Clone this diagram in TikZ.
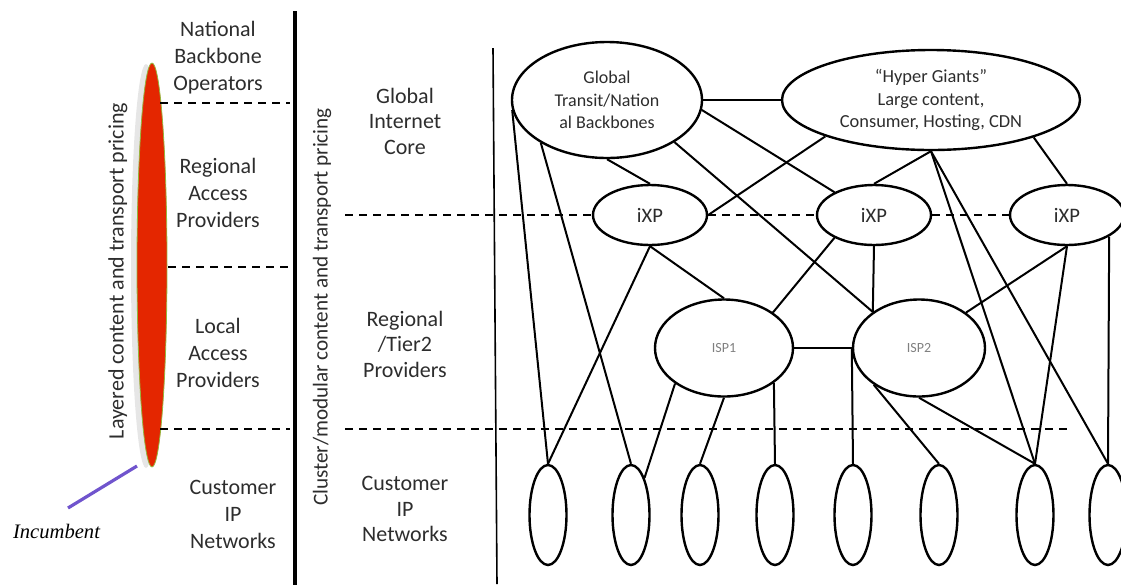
\documentclass[tikz,border=0pt]{standalone}
\usepackage{fontspec}
\setmainfont{Carlito}
\newfontfamily\incfont{Liberation Serif}
\usetikzlibrary{shapes.geometric}
\usetikzlibrary{positioning}
\usetikzlibrary{shadows}
\definecolor{barred}{RGB}{228,38,0}
\definecolor{barrim}{RGB}{150,180,60}
\definecolor{incpurple}{RGB}{112,84,205}
\definecolor{txtgray}{RGB}{45,45,45}
\tikzset{every picture/.style={x=0.5pt,y=-0.5pt},
  net/.style={ellipse,draw,line width=1.2pt,inner sep=0pt,align=center,text=txtgray},
  link/.style={line width=1pt},
  layer/.style={line width=1pt,dash pattern=on 4pt off 3pt},
  tier/.style={align=center,text=txtgray,font=\fontsize{11}{13.5}\selectfont},
  core/.style={align=center,text=txtgray,font=\fontsize{11}{12.75}\selectfont}}

\begin{document}
\begin{tikzpicture}
\useasboundingbox (0,0) rectangle (1121,585);

% left column: layered model
\node (redbar) at (152,265) [ellipse,minimum width=15pt,minimum height=202pt,inner sep=0pt,
  fill=barred,draw=barrim,line width=0.4pt,
  drop shadow={opacity=0.2,shadow xshift=-3pt,shadow yshift=-0.5pt}] {};
\node (lctp) at (118,271) [rotate=90,text=txtgray,font=\fontsize{11}{13}\selectfont] {Layered content and transport pricing};
\node (nbo) at (218,57.5) [tier] {National\\Backbone\\Operators};
\node (rap) at (218,193) [tier] {Regional\\Access\\Providers};
\node (lap) at (218,353) [tier] {Local\\Access\\Providers};
\node (cipl) at (233,514) [tier] {Customer\\IP\\Networks};
\draw[layer] (160,103) -- (290,103);
\draw[layer] (168,267) -- (290,267);
\draw[layer] (160,429) -- (290,429);
\node (inctext) at (56.5,531) [font=\incfont\itshape\fontsize{10.3}{12}\selectfont] {Incumbent};
\coordinate (inctail) at (68,508);
\coordinate (inctip) at (137,466);
\draw[incpurple,line width=1.6pt] (inctail) -- (inctip);

\draw[line width=1.8pt] (295,11) -- (295,585);

% middle column: cluster model
\node (cmctp) at (322,307) [rotate=90,text=txtgray,font=\fontsize{10.6}{13}\selectfont] {Cluster/modular content and transport pricing};
\node (gic) at (405,121) [core] {Global\\Internet\\Core};
\node (rtp) at (405,344) [core] {Regional\\/Tier2\\Providers};
\node (cipm) at (405,509) [core] {Customer\\IP\\Networks};
\draw[line width=0.8pt] (493,48) -- (497,584);

% network
\node (gt) at (607,100) [net,minimum width=95pt,minimum height=58pt,font=\fontsize{9}{11.25}\selectfont] {Global\\Transit/Nation\\al Backbones};
\node (hg) at (931,100) [net,minimum width=149pt,minimum height=50pt,font=\fontsize{9.2}{11.1}\selectfont] {“Hyper Giants”\\Large content,\\Consumer, Hosting, CDN};
\foreach \i/\x in {1/650,2/874,3/1067}
  \node (ixp\i) at (\x,215) [net,minimum width=57pt,minimum height=30pt,font=\fontsize{10.3}{12}\selectfont] {iXP};
\node (isp1) at (724,348) [net,minimum width=69pt,minimum height=48.5pt,text=gray,font=\fontsize{7}{8}\selectfont] {ISP1};
\node (isp2) at (919,348) [net,minimum width=66pt,minimum height=48.5pt,text=gray,font=\fontsize{7}{8}\selectfont] {ISP2};
\foreach \i/\x in {1/548,2/631,3/700,4/775,5/853,6/939,7/1035,8/1108}
  \node (c\i) at (\x,515) [net,minimum width=18.5pt,minimum height=50pt] {};

\coordinate (ixpstart) at (345,215);
\coordinate (custstart) at (345,429);
\coordinate (custend) at (1068,429);
\draw[layer] (ixpstart) -- (ixp1.west) (ixp1.east) -- (ixp2.west) (ixp2.east) -- (ixp3.west);
\draw[layer] (custstart) -- (custend);

\foreach \a/\b in {gt.east/hg.west, gt.186/c1.north, gt.213/c2.north, gt.south/ixp1.north,
    gt.354/ixp2.150, gt.328/isp2.142, hg.199/ixp1.east, hg.south/ixp2.north,
    hg.south/c7.north, hg.south/c8.north, hg.340/ixp3.north,
    ixp1.south/isp1.north, ixp1.south/c1.north, ixp2.210/isp1.36, ixp2.south/isp2.142,
    ixp3.south/isp2.37, ixp3.south/c7.north, ixp3.333/c8.north,
    isp1.east/isp2.west, isp1.216/c2.70, isp1.south/c3.north, isp1.325/c4.north,
    isp2.west/c5.north, isp2.219/c6.north, isp2.south/c7.north}
  \draw[link] (\a) -- (\b);
\end{tikzpicture}
\end{document}
